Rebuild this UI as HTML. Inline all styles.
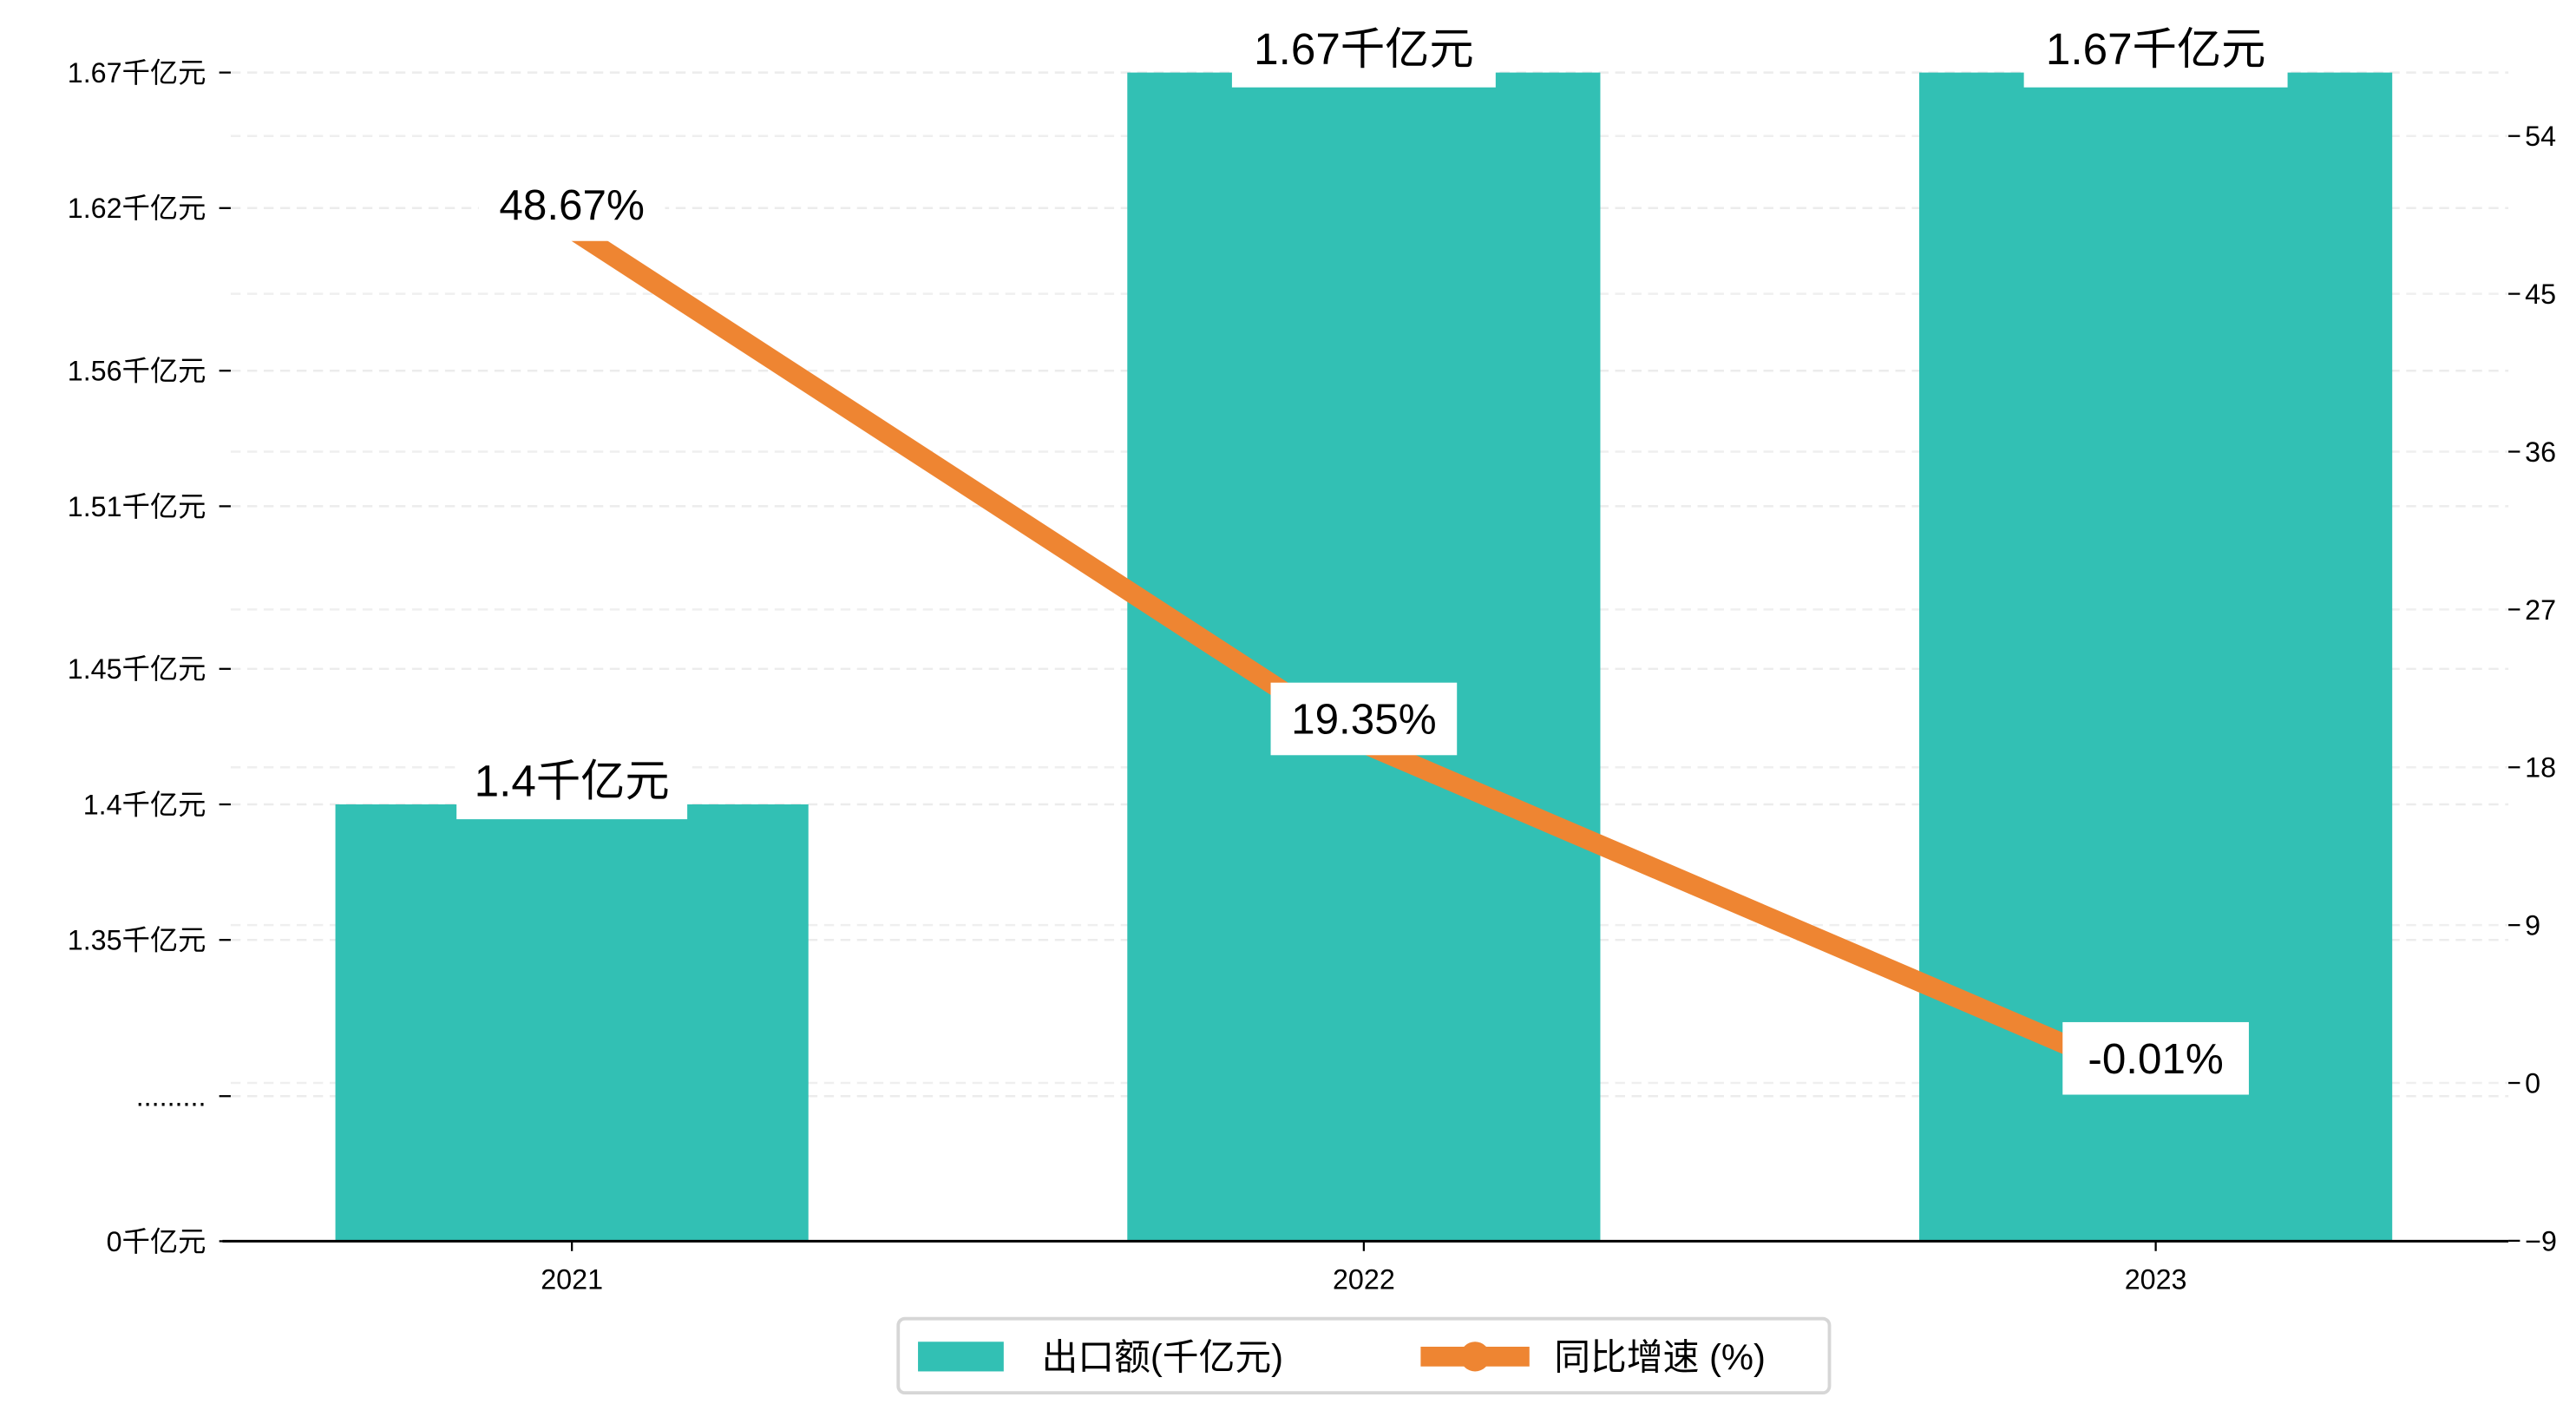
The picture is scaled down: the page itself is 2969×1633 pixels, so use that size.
<!DOCTYPE html>
<html><head><meta charset="utf-8"><style>
html,body{margin:0;padding:0;background:#fff;}
svg{display:block;font-family:"Liberation Sans","Noto Sans CJK SC",sans-serif;}
</style></head><body>
<svg id="chart" width="2969" height="1633" viewBox="0 0 1563 859.65" xmlns="http://www.w3.org/2000/svg">
<g id="grid"></g>
<g id="bars"></g>
<g id="line"></g>
<g id="axes"></g>
<g id="labels"></g>
<g>
  <rect x="545" y="800" width="565" height="45" rx="4" fill="#fff" stroke="#d6d6d6" stroke-width="2"/>
  <rect x="557" y="814" width="52" height="18" fill="#32c0b4"/>
  <text x="632" y="831" font-size="22">出口额(千亿元)</text>
  <line x1="862" y1="823" x2="928" y2="823" stroke="#ee8532" stroke-width="12"/>
  <circle cx="895" cy="823" r="9" fill="#ee8532"/>
  <text x="943" y="831" font-size="22">同比增速 (%)</text>
</g>
</svg>
<script>
const categories = ["2021","2022","2023"];
const exportValues = [1.4, 1.67, 1.67];
const exportLabels = ["1.4千亿元","1.67千亿元","1.67千亿元"];
const growthValues = [48.67, 19.35, -0.01];
const growthLabels = ["48.67%","19.35%","-0.01%"];
const leftTickValues = [1.35, 1.40, 1.45, 1.51, 1.56, 1.62, 1.67];
const leftTickLabels = ["1.35千亿元","1.4千亿元","1.45千亿元","1.51千亿元","1.56千亿元","1.62千亿元","1.67千亿元"];
const rightTickValues = [-9, 0, 9, 18, 27, 36, 45, 54];

const NS = "http://www.w3.org/2000/svg";
const X0 = 135, X1 = 1522, BASE = 753, BAR_W = 287;
function xPos(i){ return 347 + i * 480.5; }
function yLeft(v){ return 488 - (v - 1.4) * (444 / 0.27); }
function yRight(v){ return 657 - v * (95.75 / 9); }
function mk(tag, attrs, parent){ const e = document.createElementNS(NS, tag); for (const k in attrs) e.setAttribute(k, attrs[k]); parent.appendChild(e); return e; }

const grid = document.getElementById('grid');
const bars = document.getElementById('bars');
const lineG = document.getElementById('line');
const axes = document.getElementById('axes');
const labels = document.getElementById('labels');

leftTickValues.forEach((v, i) => {
  const y = yLeft(v);
  const g = mk('line', {x1: 140, x2: X1, y1: y, y2: y, stroke: '#ececec', 'stroke-width': 1.3, 'stroke-dasharray': '6,4'}, grid);
  
  
  const t = mk('line', {x1: 133, x2: 140, y1: y, y2: y, stroke: '#000', 'stroke-width': 1.2}, axes);
  
  
  const l = mk('text', {x: 125, y: y + 6, 'font-size': 17, 'text-anchor': 'end'}, axes);
  l.textContent = leftTickLabels[i];
  
  
});
// broken-axis marker and zero
[[665, "........."], [BASE, "0千亿元"]].forEach(([y, s]) => {
  const t = mk('line', {x1: 133, x2: 140, y1: y, y2: y, stroke: '#000', 'stroke-width': 1.2}, axes);
  
  
  const l = mk('text', {x: 125, y: y + 6, 'font-size': 17, 'text-anchor': 'end'}, axes);
  l.textContent = s;
  
  
});
const gz = mk('line', {x1: 140, x2: X1, y1: 665, y2: 665, stroke: '#ececec', 'stroke-width': 1.3, 'stroke-dasharray': '6,4'}, grid);



rightTickValues.forEach(v => {
  const y = yRight(v);
  if (v !== -9) {
    const g = mk('line', {x1: 140, x2: X1, y1: y, y2: y, stroke: '#efefef', 'stroke-width': 1.3, 'stroke-dasharray': '6,4'}, grid);
    
    
  }
  const t = mk('line', {x1: X1, x2: X1 + 7, y1: y, y2: y, stroke: '#000', 'stroke-width': 1.2}, axes);
  
  
  const l = mk('text', {x: X1 + 10, y: y + 6, 'font-size': 17}, axes);
  l.textContent = v < 0 ? '−' + Math.abs(v) : String(v);
  
  
});

categories.forEach((c, i) => {
  const x = xPos(i), top = yLeft(exportValues[i]);
  const b = mk('rect', {x: x - BAR_W / 2, y: top, width: BAR_W, height: BASE - top, fill: '#32c0b4'}, bars);
  
  
  const t = mk('line', {x1: x, x2: x, y1: BASE, y2: BASE + 6, stroke: '#000', 'stroke-width': 1.2}, axes);
  
  
  const l = mk('text', {x: x, y: BASE + 29, 'font-size': 17, 'text-anchor': 'middle'}, axes);
  l.textContent = c;
  
  
});
const xa = mk('line', {x1: X0, x2: X1, y1: BASE, y2: BASE, stroke: '#000', 'stroke-width': 1.6}, axes);



const pts = growthValues.map((v, i) => xPos(i) + ',' + yRight(v)).join(' ');
const pl = mk('polyline', {points: pts, fill: 'none', stroke: '#ee8532', 'stroke-width': 12}, lineG);



// bar labels
categories.forEach((c, i) => {
  const x = xPos(i), top = yLeft(exportValues[i]);
  const w = exportLabels[i].length * 20 + 20;
  const r = mk('rect', {x: x - w / 2, y: top - 34, width: w, height: 43, fill: '#fff'}, labels);
  
  
  const t = mk('text', {x: x, y: top - 5, 'font-size': 27, 'text-anchor': 'middle'}, labels);
  t.textContent = exportLabels[i];
  
  
});
// growth labels
growthValues.forEach((v, i) => {
  const x = xPos(i), y = yRight(v) - 15;
  const w = 113;
  const r = mk('rect', {x: x - w / 2, y: y - 22, width: w, height: 44, fill: '#fff'}, labels);
  
  
  const t = mk('text', {x: x, y: y + 9, 'font-size': 26, 'text-anchor': 'middle'}, labels);
  t.textContent = growthLabels[i];
  
  
});
</script>
</body></html>
